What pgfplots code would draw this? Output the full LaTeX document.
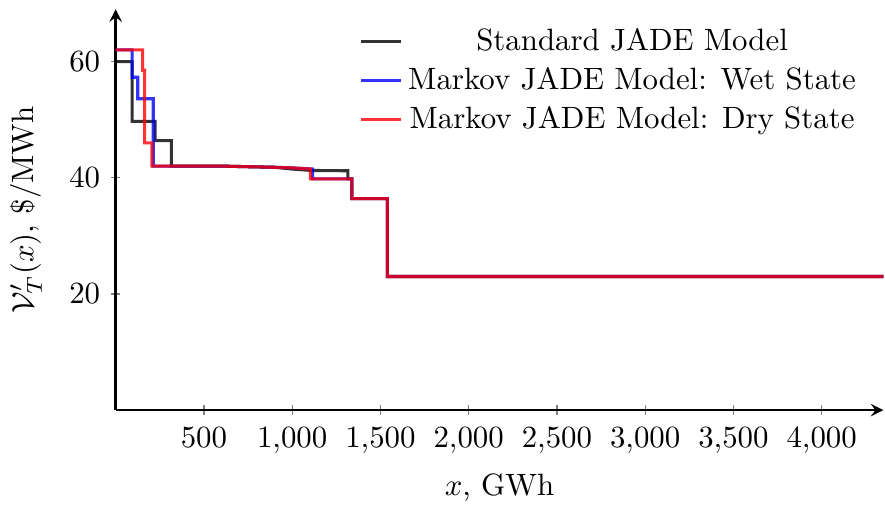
\documentclass[border=0pt]{standalone}
\usepackage{pgfplots}
\pgfplotsset{compat=1.18}
\begin{document}
\begin{tikzpicture}
\begin{axis}[
  scale only axis,
  width=249pt, height=130pt,
  axis lines=left,
  axis line style={thick},
  xmin=0, xmax=4350, ymin=0, ymax=69,
  xtick={500,1000,1500,2000,2500,3000,3500,4000},
  ytick={20,40,60},
  tick align=center,
  major tick length=3pt,
  tick style={gray, thin},
  xticklabel style={yshift=-0.5pt},
  xlabel={$x$, GWh},
  ylabel={$\mathcal{V}_T'(x)$, \$/MWh},
  ylabel style={yshift=2pt},
  legend style={draw=none, fill=none, at={(0.985,0.985)}, anchor=north east, row sep=0pt},
  legend cell align=center,
  legend image code/.code={\draw[#1] (0cm,0cm) -- (0.45cm,0cm);},
  every axis plot/.append style={line width=1pt, opacity=0.8},
  clip=false,
  after end axis/.code={\path (rel axis cs:0,1) ++(0,3pt);},
]
\addplot[black] coordinates {
  (0,60) (93,60) (93,49.7) (224,49.7) (224,46.4) (316,46.4) (316,42)
  (600,42) (900,41.8) (1000,41.5) (1110,41.25) (1316,41.2) (1316,39.8)
  (1338,39.8) (1338,36.4) (1539,36.4) (1539,23) (4350,23)};
\addlegendentry{Standard JADE Model}
\addplot[blue] coordinates {
  (0,62) (93,62) (93,57.3) (125,57.3) (125,53.6) (213,53.6) (213,42)
  (600,42) (900,41.8) (1000,41.7) (1115,41.5) (1115,39.8)
  (1338,39.8) (1338,36.4) (1539,36.4) (1539,23) (4350,23)};
\addlegendentry{Markov JADE Model: Wet State}
\addplot[red] coordinates {
  (0,62) (153,62) (153,58.5) (164,58.5) (164,46) (205,46) (205,42)
  (600,42) (900,41.8) (1000,41.7) (1103,41.5) (1103,39.8)
  (1338,39.8) (1338,36.4) (1539,36.4) (1539,23) (4350,23)};
\addlegendentry{Markov JADE Model: Dry State}
\end{axis}
\end{tikzpicture}
\end{document}
